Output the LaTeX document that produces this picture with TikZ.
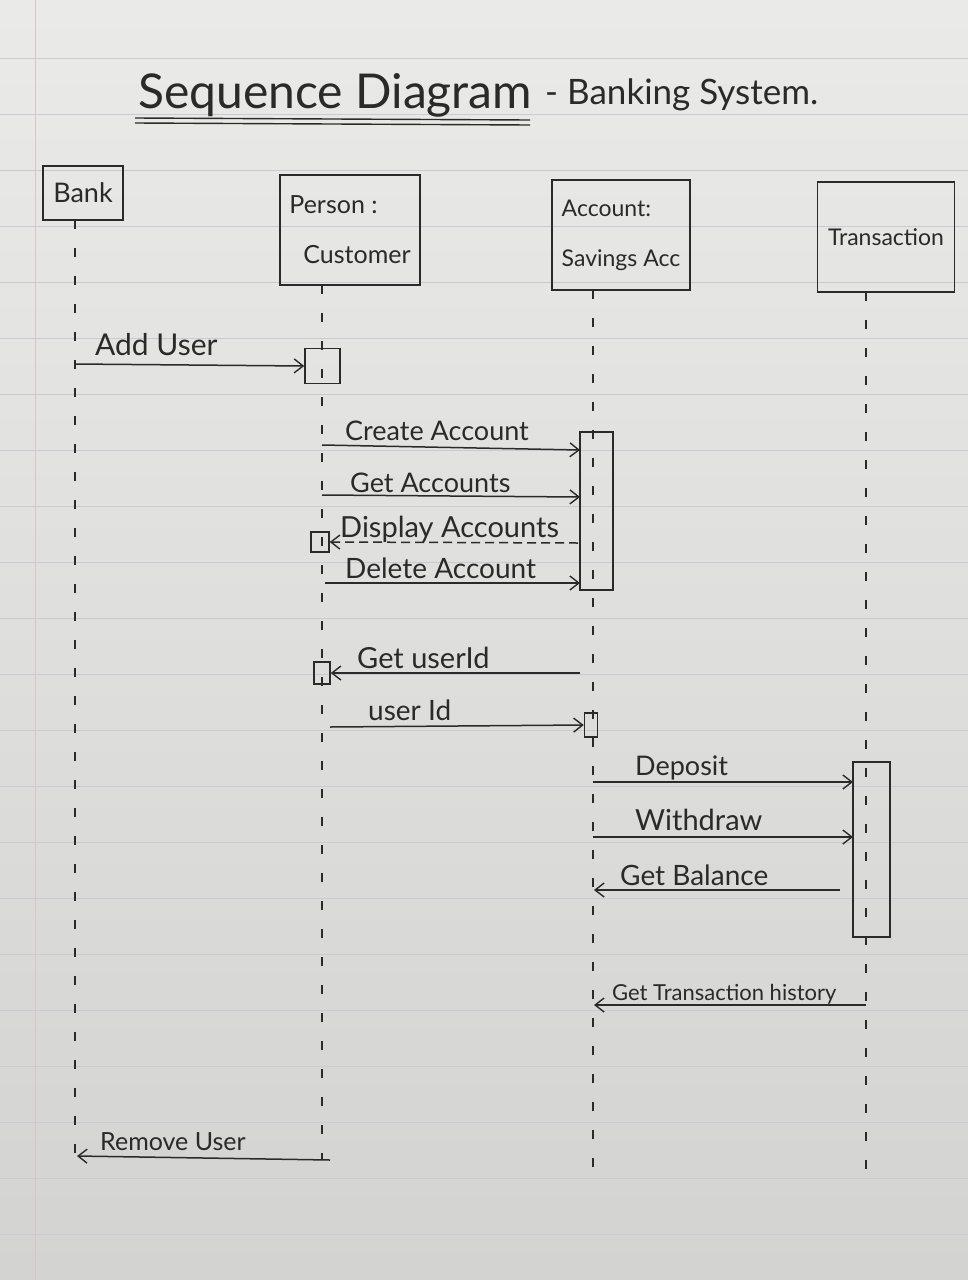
\documentclass[tikz,border=0pt]{standalone}
\usepackage{fontspec}
\setmainfont{Lato}
\usetikzlibrary{arrows.meta}
\definecolor{paperTop}{HTML}{EAEAE8}
\definecolor{paperBot}{HTML}{D3D3D1}
\definecolor{ink}{HTML}{2A2A2A}
\definecolor{ruling}{HTML}{C6CBD4}
\definecolor{marginline}{HTML}{D5C6C8}
\begin{document}
\begin{tikzpicture}[x=1pt,y=-1pt,
  headbox/.style={draw=ink, line width=1.6pt, text=ink, inner sep=3pt},
  actbox/.style={draw=ink, line width=1.5pt},
  lifeline/.style={draw=ink, line width=1.3pt, dash pattern=on 9pt off 19pt},
  msg/.style={draw=ink, line width=1.5pt, -{Straight Barb[length=9pt,width=14pt,line width=1.4pt]}},
  retmsg/.style={msg, dash pattern=on 9pt off 5pt},
  lbl/.style={anchor=base west, text=ink, font=\fontsize{27}{30}\selectfont, inner sep=0pt},
  ruleline/.style={draw=ruling, line width=1pt}
]
\useasboundingbox (0,0) rectangle (968,1280);
% paper
\shade[top color=paperTop, bottom color=paperBot] (0,0) rectangle (968,1280);
\foreach \k in {0,...,21} { \draw[ruleline] (0,58+56*\k) -- (968,58+56*\k); }
\draw[marginline, line width=1pt] (35,0) -- (35,1280);

% title
\node[anchor=base west, text=ink, inner sep=0pt, font=\fontsize{48}{52}\selectfont] (title) at (138,108) {Sequence Diagram};
\node[anchor=base west, text=ink, inner sep=0pt, font=\fontsize{35}{38}\selectfont] (subtitle) at (545,104) {- Banking System.};
\coordinate (ulA1) at (135,118); \coordinate (ulB1) at (530,120);
\coordinate (ulA2) at (135,123); \coordinate (ulB2) at (530,125);
\draw[ink, line width=1.4pt] (ulA1) -- (ulB1);
\draw[ink, line width=1.4pt] (ulA2) -- (ulB2);

% heads
\node[headbox, minimum width=80pt, minimum height=54pt, font=\fontsize{27}{30}\selectfont] (bank) at (83,193) {Bank};
\node[headbox, minimum width=140pt, minimum height=110pt, font=\fontsize{25}{50}\selectfont, align=left] (person) at (350,230) {Person :\\\hspace*{14pt}Customer};
\node[headbox, minimum width=138pt, minimum height=110pt, font=\fontsize{23}{50}\selectfont, align=left] (account) at (621,235) {Account:\\Savings Acc};
\node[headbox, minimum width=137pt, minimum height=110pt, font=\fontsize{23}{28}\selectfont] (trans) at (886,237) {Transaction};

% lifelines
\coordinate (bankTop) at (75,220);   \coordinate (bankEnd) at (75,1170);
\coordinate (persTop) at (322,285);  \coordinate (persEnd) at (322,1160);
\coordinate (accTop) at (593,290);   \coordinate (accEnd) at (593,1185);
\coordinate (trTop) at (866,292);    \coordinate (trEnd) at (866,1180);
\draw[lifeline] (bankTop) -- (bankEnd);
\draw[lifeline] (persTop) -- (persEnd);
\draw[lifeline] (accTop) -- (accEnd);
\draw[lifeline] (trTop) -- (trEnd);

% activation boxes
\node[actbox, minimum width=35pt, minimum height=35pt, inner sep=0pt] (actP1) at (322.5,366) {};
\node[actbox, minimum width=33pt, minimum height=158pt, inner sep=0pt] (actA) at (596.5,511) {};
\node[actbox, minimum width=18pt, minimum height=20pt, inner sep=0pt] (actP2) at (320,542) {};
\node[actbox, minimum width=16pt, minimum height=22pt, inner sep=0pt] (actP3) at (322,673) {};
\node[actbox, minimum width=13pt, minimum height=24pt, inner sep=0pt] (actA2) at (591,725) {};
\node[actbox, minimum width=37pt, minimum height=175pt, inner sep=0pt] (actT) at (871.5,849.5) {};

% message end points
\coordinate (m1s) at (75,364);
\coordinate (m2s) at (322,445);  \coordinate (m2e) at (580,450);
\coordinate (m3s) at (322,495);  \coordinate (m3e) at (580,497);
\coordinate (m4s) at (578,543);
\coordinate (m5s) at (325,583);  \coordinate (m5e) at (580,583);
\coordinate (m6s) at (580,673);
\coordinate (m7s) at (330,727);
\coordinate (m8s) at (593,782);  \coordinate (m8e) at (853,782);
\coordinate (m9s) at (593,837);  \coordinate (m9e) at (853,837);
\coordinate (m10s) at (840,890); \coordinate (m10e) at (594,890);
\coordinate (m11s) at (866,1005); \coordinate (m11e) at (594,1005);
\coordinate (m12s) at (330,1160); \coordinate (m12e) at (77,1156);

% messages
\draw[msg] (m1s) -- (actP1.west);
\draw[msg] (m2s) -- (m2e);
\draw[msg] (m3s) -- (m3e);
\draw[retmsg] (m4s) -- (actP2.east);
\draw[msg] (m5s) -- (m5e);
\draw[msg] (m6s) -- (actP3.east);
\draw[msg] (m7s) -- (actA2.west);
\draw[msg] (m8s) -- (m8e);
\draw[msg] (m9s) -- (m9e);
\draw[msg] (m10s) -- (m10e);
\draw[msg] (m11s) -- (m11e);
\draw[msg] (m12s) -- (m12e);

% labels
\node[lbl, font=\fontsize{30}{33}\selectfont] (l1) at (95,355) {Add User};
\node[lbl] (l2) at (345,440) {Create Account};
\node[lbl] (l3) at (350,492) {Get Accounts};
\node[lbl, font=\fontsize{29}{32}\selectfont] (l4) at (340,537) {Display Accounts};
\node[lbl, font=\fontsize{28}{31}\selectfont] (l5) at (345,578) {Delete Account};
\node[lbl, font=\fontsize{29}{32}\selectfont] (l6) at (357,668) {Get userId};
\node[lbl, font=\fontsize{28}{31}\selectfont] (l7) at (368,720) {user Id};
\node[lbl] (l8) at (635,775) {Deposit};
\node[lbl, font=\fontsize{29}{32}\selectfont] (l9) at (635,830) {Withdraw};
\node[lbl, font=\fontsize{28}{32}\selectfont] (l10) at (620,885) {Get Balance};
\node[lbl, font=\fontsize{22}{25}\selectfont] (l11) at (612,1000) {Get Transaction history};
\node[lbl, font=\fontsize{25}{28}\selectfont] (l12) at (100,1150) {Remove User};
\end{tikzpicture}
\end{document}
